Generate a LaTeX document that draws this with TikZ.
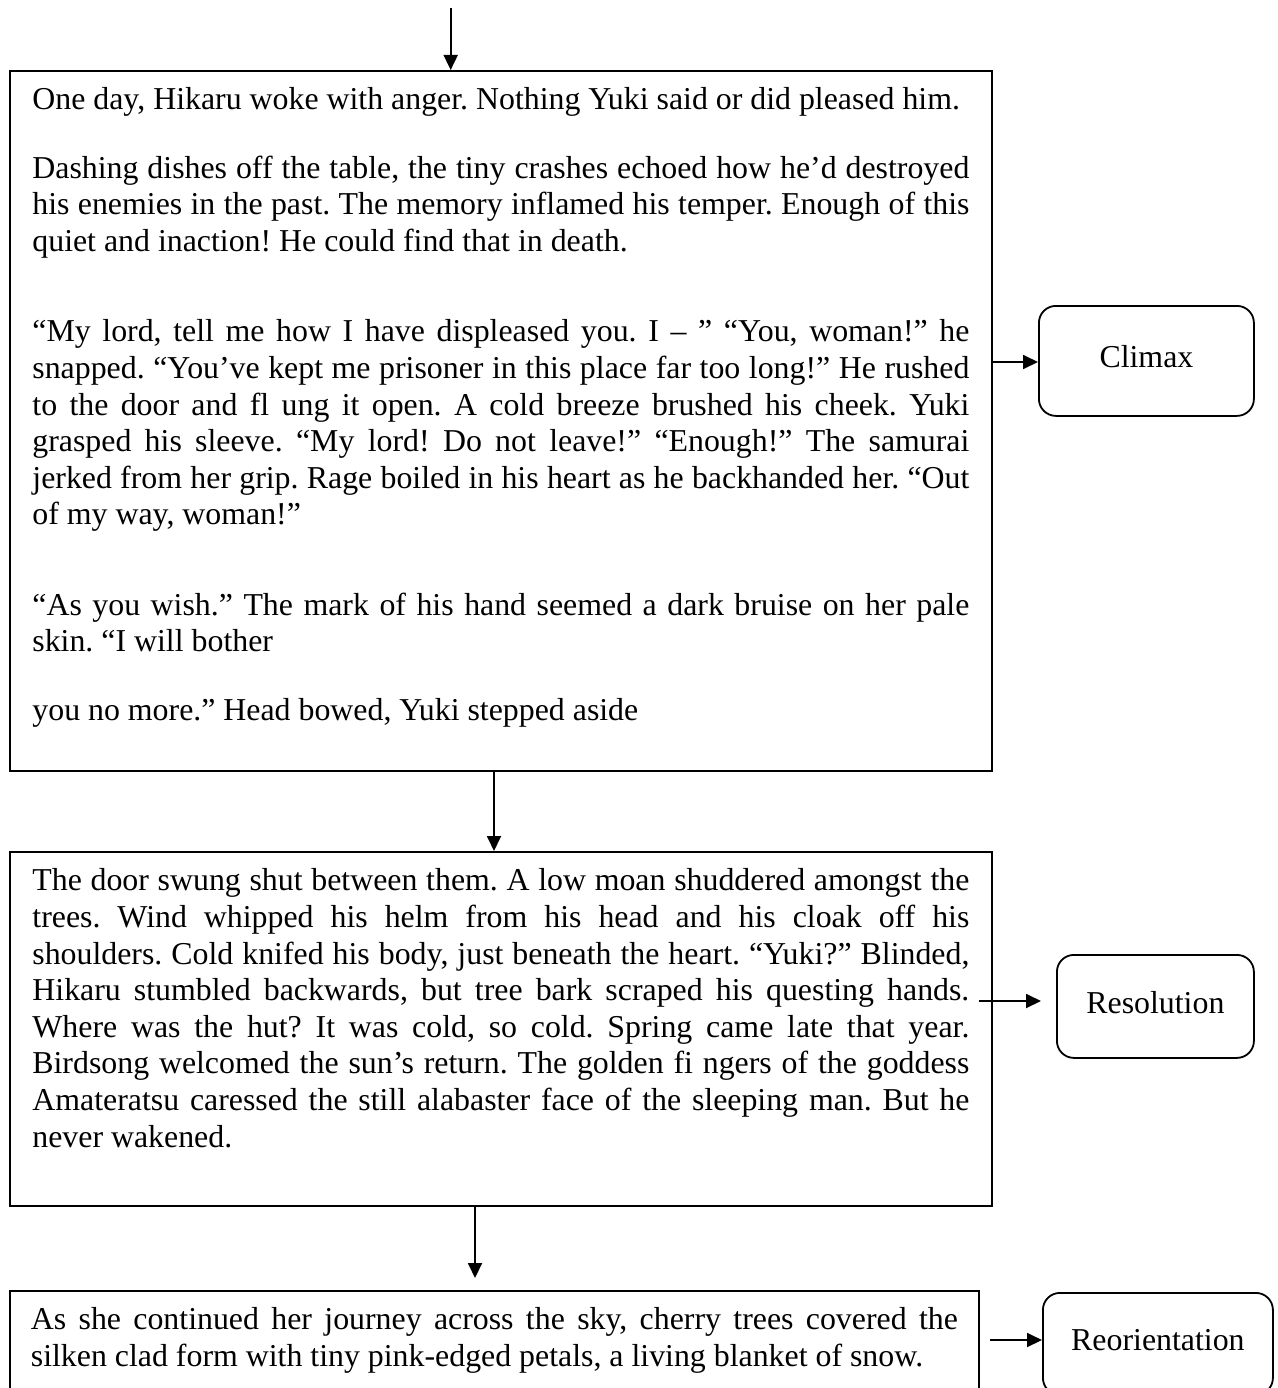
\documentclass[tikz,border=0pt]{standalone}
\usepackage{fontspec}
\setmainfont{Liberation Serif}[Ligatures=NoCommon]
\usetikzlibrary{arrows.meta}

% body text of a story box: #1 height, #2 width, #3 text
\newcommand{\boxbody}[3]{%
  \begin{minipage}[t][#1][t]{#2}%
    \fontsize{31.85pt}{36.6pt}\selectfont\frenchspacing
    \parindent=0pt \parskip=31.8pt
    \tolerance=10000 \hbadness=10000
    \hyphenpenalty=10000 \exhyphenpenalty=10000
    \rule{0pt}{39pt}#3%
  \end{minipage}}

\begin{document}
\begin{tikzpicture}[x=1pt, y=-1pt,
  storybox/.style={draw, line width=1.8pt, anchor=north west,
    inner xsep=22.5pt, inner ysep=0pt},
  stagebox/.style={draw, line width=1.8pt, rounded corners=17pt,
    anchor=north west, inner sep=0pt, align=center,
    text height=22pt, text depth=8pt,
    font=\fontsize{31.85pt}{36.6pt}\selectfont},
  arr/.style={line width=1.8pt, -{Triangle[length=15pt,width=14pt]}}]

\useasboundingbox (0,0) rectangle (1277,1388);

% story boxes
\node[storybox] (b1) at (9,70) {\boxbody{700pt}{937pt}{%
One day, Hikaru woke with anger. Nothing Yuki said or did pleased him.\par
Dashing dishes off the table, the tiny crashes echoed how he’d destroyed\linebreak
his enemies in the past. The memory inflamed his temper. Enough of this\linebreak
quiet and inaction! He could find that in death.\par
\vspace{22pt}%
“My lord, tell me how I have displeased you. I – ” “You, woman!” he\linebreak
snapped. “You’ve kept me prisoner in this place far too long!” He rushed\linebreak
to the door and fl ung it open. A cold breeze brushed his cheek. Yuki\linebreak
grasped his sleeve. “My lord! Do not leave!” “Enough!” The samurai\linebreak
jerked from her grip. Rage boiled in his heart as he backhanded her. “Out\linebreak
of my way, woman!”\par
\vspace{22pt}%
“As you wish.” The mark of his hand seemed a dark bruise on her pale\linebreak
skin. “I will bother\par
you no more.” Head bowed, Yuki stepped aside}};

\node[storybox] (b2) at (9,851) {\boxbody{354pt}{937pt}{%
The door swung shut between them. A low moan shuddered amongst the\linebreak
trees. Wind whipped his helm from his head and his cloak off his\linebreak
shoulders. Cold knifed his body, just beneath the heart. “Yuki?” Blinded,\linebreak
Hikaru stumbled backwards, but tree bark scraped his questing hands.\linebreak
Where was the hut? It was cold, so cold. Spring came late that year.\linebreak
Birdsong welcomed the sun’s return. The golden fi ngers of the goddess\linebreak
Amateratsu caressed the still alabaster face of the sleeping man. But he\linebreak
never wakened.}};

\node[storybox, inner xsep=21pt] (b3) at (9,1290) {\boxbody{150pt}{927pt}{%
As she continued her journey across the sky, cherry trees covered the\linebreak
silken clad form with tiny pink-edged petals, a living blanket of snow.}};

% stage labels
\node[stagebox, minimum width=215pt, minimum height=110pt] (climax) at (1038,305) {Climax};
\node[stagebox, minimum width=197pt, minimum height=103pt] (resolution) at (1056,954) {Resolution};
\node[stagebox, minimum width=230pt, minimum height=102pt] (reorient) at (1042,1292) {Reorientation};

% flow arrows
\coordinate (top) at (450.7,8);
\coordinate (m1) at (494,0);
\coordinate (m2) at (475,0);
\coordinate (m2end) at (475,1278);
\draw[arr] (top) -- (top |- b1.north);
\draw[arr] (b1.south -| m1) -- (b2.north -| m1);
\draw[arr] (b2.south -| m2) -- (m2end);

% stage arrows
\coordinate (c0) at (991,362);
\draw[arr] (c0) -- (c0 -| climax.west);
\coordinate (r0) at (979,1001);
\coordinate (r1) at (1041,1001);
\draw[arr] (r0) -- (r1);
\coordinate (o0) at (990,1340);
\draw[arr] (o0) -- (o0 -| reorient.west);

\end{tikzpicture}
\end{document}
